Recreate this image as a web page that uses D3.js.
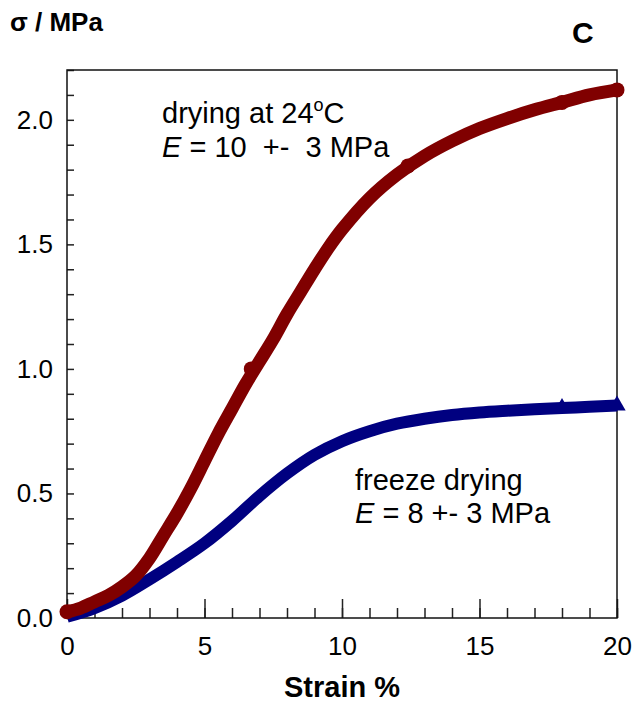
<!DOCTYPE html>
<html>
<head>
<meta charset="utf-8">
<script src="https://cdn.jsdelivr.net/npm/d3@7"></script>
<style>
  body { margin: 0; background: #fff; }
  text { font-family: "Liberation Sans", Arial, sans-serif; fill: #000; }
  .tick line { stroke: #222; stroke-width: 1.5; }
  .tick text { font-size: 26px; }
</style>
</head>
<body>
<div id="chart"></div>
<script>
// stress-strain curves
var dryStrain = [0, 0.5, 1, 1.5, 2, 2.5, 3, 3.5, 4, 4.5, 5, 5.5, 6, 6.5, 7, 7.5, 8, 8.5, 9, 9.5, 10, 11, 12, 13, 14, 15, 16, 17, 18, 19, 20];
var dryStress = [0.025, 0.04, 0.065, 0.09, 0.125, 0.17, 0.24, 0.33, 0.42, 0.52, 0.63, 0.74, 0.84, 0.94, 1.03, 1.12, 1.22, 1.31, 1.40, 1.485, 1.56, 1.685, 1.78, 1.855, 1.915, 1.965, 2.005, 2.04, 2.07, 2.10, 2.12];

var freezeStrain = [0, 1, 2, 3, 4, 5, 6, 7, 8, 9, 10, 11, 12, 13, 14, 15, 16, 17, 18, 19, 20];
var freezeStress = [0.005, 0.04, 0.09, 0.155, 0.225, 0.30, 0.39, 0.49, 0.58, 0.655, 0.71, 0.75, 0.78, 0.80, 0.815, 0.825, 0.832, 0.838, 0.843, 0.848, 0.853];

// marker symbols that show on the thick traces
var dryMarkStrain = [0, 6.7, 12.4, 18, 20];
var dryMarkStress = [0.025, 1.0, 1.815, 2.07, 2.12];
var freezeMarkStrain = [18, 20];
var freezeMarkStress = [0.843, 0.853];

var xMajor = [0, 5, 10, 15, 20];
var xMinor = d3.range(0, 21, 1);
var yTicks = d3.range(0, 22.5, 1).map(function(d) { return d / 10; });
var yLabels = [0, 0.5, 1.0, 1.5, 2.0];

var width = 634, height = 702;
var margin = {top: 70, right: 17, bottom: 84, left: 67};
var w = width - margin.left - margin.right;
var h = height - margin.top - margin.bottom;

var svg = d3.select("#chart").append("svg")
    .attr("width", width)
    .attr("height", height);

var g = svg.append("g")
    .attr("transform", "translate(" + margin.left + "," + margin.top + ")");

var xScale = d3.scaleLinear().domain([0, 20]).range([0, w]);
var yScale = d3.scaleLinear().domain([0, 2.2]).range([h, 0]);

// x axis: minor and major ticks point inwards
g.append("g")
    .attr("transform", "translate(0," + h + ")")
    .call(d3.axisBottom(xScale).tickValues(xMinor).tickSizeInner(-10).tickSizeOuter(0).tickFormat(""))
    .call(function(a) { a.select(".domain").remove(); });

g.append("g")
    .attr("transform", "translate(0," + h + ")")
    .call(d3.axisBottom(xScale).tickValues(xMajor).tickSizeInner(-19).tickSizeOuter(0).tickPadding(19).tickFormat(d3.format("d")))
    .call(function(a) { a.select(".domain").remove(); });

// y axis
g.append("g")
    .call(d3.axisLeft(yScale).tickValues(yTicks).tickSizeInner(-7).tickSizeOuter(0).tickPadding(14)
        .tickFormat(function(d) {
            return yLabels.some(function(v) { return Math.abs(v - d) < 1e-6; }) ? d3.format(".1f")(d) : "";
        }))
    .call(function(a) { a.select(".domain").remove(); });

// frame
g.append("rect")
    .attr("width", w)
    .attr("height", h)
    .attr("fill", "none")
    .attr("stroke", "#111")
    .attr("stroke-width", 1.5);

var line = d3.line()
    .x(function(d) { return xScale(d[0]); })
    .y(function(d) { return yScale(d[1]); })
    .curve(d3.curveCatmullRom.alpha(0.5));

var freezeData = freezeStrain.map(function(d, i) { return [d, freezeStress[i]]; });
var dryData = dryStrain.map(function(d, i) { return [d, dryStress[i]]; });

g.append("path")
    .datum(freezeData)
    .attr("fill", "none")
    .attr("stroke", "#000080")
    .attr("stroke-width", 12)
    .attr("d", line);

g.selectAll(".tri")
    .data(freezeMarkStrain)
    .enter().append("path")
    .attr("class", "tri")
    .attr("transform", function(d, i) { return "translate(" + xScale(d) + "," + yScale(freezeMarkStress[i]) + ")"; })
    .attr("d", d3.symbol(d3.symbolTriangle, 130))
    .attr("fill", "#000080");

g.append("path")
    .datum(dryData)
    .attr("fill", "none")
    .attr("stroke", "#800000")
    .attr("stroke-width", 13)
    .attr("stroke-linecap", "round")
    .attr("d", line);

g.selectAll(".dot")
    .data(dryMarkStrain)
    .enter().append("circle")
    .attr("class", "dot")
    .attr("cx", function(d) { return xScale(d); })
    .attr("cy", function(d, i) { return yScale(dryMarkStress[i]); })
    .attr("r", 7.5)
    .attr("fill", "#800000");

// labels
svg.append("text")
    .attr("x", 10).attr("y", 31)
    .style("font-size", "26px").style("font-weight", "bold")
    .text("σ / MPa");

svg.append("text")
    .attr("x", 572).attr("y", 43)
    .style("font-size", "30px").style("font-weight", "bold")
    .text("C");

svg.append("text")
    .attr("x", margin.left + w / 2).attr("y", 697)
    .attr("text-anchor", "middle")
    .style("font-size", "29px").style("font-weight", "bold")
    .text("Strain %");

var t1 = svg.append("text")
    .attr("x", 162).attr("y", 123)
    .style("font-size", "29px");
t1.append("tspan").text("drying at 24");
t1.append("tspan").attr("dy", -12).style("font-size", "18px").text("o");
t1.append("tspan").attr("dy", 12).text("C");

var t2 = svg.append("text")
    .attr("x", 162).attr("y", 157)
    .style("font-size", "29px");
t2.append("tspan").style("font-style", "italic").text("E");
t2.append("tspan").text(" = 10\u00a0 +-\u00a0 3 MPa");

svg.append("text")
    .attr("x", 355).attr("y", 490)
    .style("font-size", "29px")
    .text("freeze drying");

var t3 = svg.append("text")
    .attr("x", 355).attr("y", 523)
    .style("font-size", "29px");
t3.append("tspan").style("font-style", "italic").text("E");
t3.append("tspan").text(" = 8 +- 3 MPa");
</script>
</body>
</html>
